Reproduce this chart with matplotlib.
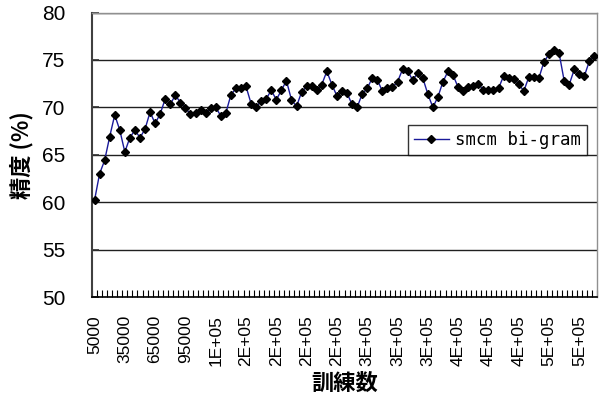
import matplotlib
matplotlib.use("Agg")
import matplotlib.pyplot as plt

plt.rcParams['font.family'] = ['Liberation Sans', 'Noto Sans CJK JP', 'DejaVu Sans']

# Training set sizes (categories) and accuracy (%)
train_sizes = list(range(5000, 500001, 5000))
accuracy = [
    60.2, 63.0, 64.4, 66.9, 69.2, 67.6, 65.3, 66.8, 67.6, 66.8,
    67.7, 69.5, 68.3, 69.3, 70.9, 70.3, 71.3, 70.5, 69.9, 69.3,
    69.4, 69.7, 69.4, 69.9, 70.0, 69.1, 69.4, 71.3, 72.0, 72.0,
    72.2, 70.4, 70.0, 70.7, 70.9, 71.8, 70.8, 71.8, 72.8, 70.8,
    70.1, 71.6, 72.2, 72.2, 71.8, 72.4, 73.8, 72.4, 71.2, 71.7,
    71.5, 70.3, 70.0, 71.4, 72.0, 73.1, 72.9, 71.7, 72.0, 72.1,
    72.7, 74.0, 73.8, 72.9, 73.6, 73.1, 71.4, 70.0, 71.1, 72.7,
    73.8, 73.4, 72.1, 71.7, 72.1, 72.2, 72.5, 71.8, 71.8, 71.8,
    72.0, 73.3, 73.1, 73.0, 72.5, 71.7, 73.2, 73.2, 73.1, 74.8,
    75.6, 76.0, 75.7, 72.8, 72.4, 74.0, 73.5, 73.3, 74.9, 75.4,
]
series_name = "smcm bi-gram"

# Every sixth category carries a label
label_step = 6
tick_labels = ["5000", "35000", "65000", "95000", "1E+05", "2E+05", "2E+05",
               "2E+05", "2E+05", "3E+05", "3E+05", "3E+05", "4E+05", "4E+05",
               "4E+05", "5E+05", "5E+05"]
y_ticks = [50, 55, 60, 65, 70, 75, 80]

cjk = ['Noto Sans CJK JP', 'DejaVu Sans']

fig = plt.figure(figsize=(5.99, 3.96), dpi=100)
ax = fig.add_axes([92 / 599, 1 - 297 / 396, 505 / 599, 284.5 / 396])

pos = list(range(len(train_sizes)))
ax.plot(pos, accuracy, color="#1a1a9a", linewidth=1.0, marker="D",
        markersize=4.2, markerfacecolor="black", markeredgecolor="black",
        label=series_name, zorder=3)

ax.set_xlim(-0.5, len(train_sizes) - 0.5)
ax.set_ylim(50, 80)
ax.set_yticks(y_ticks)
ax.set_yticklabels([str(v) for v in y_ticks], fontsize=15)
ax.tick_params(axis="y", direction="in", length=5, width=1.2,
               color="#303030", pad=19)

ax.set_xticks(pos[::label_step])
ax.set_xticklabels(tick_labels, rotation=90, fontsize=12.5,
                   va="top", ha="center")
ax.set_xticks([p - 0.5 for p in pos] + [pos[-1] + 0.5], minor=True)
ax.tick_params(axis="x", which="major", length=0, pad=13)
ax.tick_params(axis="x", which="minor", direction="in", length=5,
               width=0.8, color="black")

ax.yaxis.grid(True, color="#202020", linewidth=1.0)
ax.set_axisbelow(True)

for side in ("top", "right"):
    ax.spines[side].set_color("#909090")
    ax.spines[side].set_linewidth(1.0)
ax.spines["left"].set_color("#404040")
ax.spines["left"].set_linewidth(1.5)
ax.spines["bottom"].set_color("black")
ax.spines["bottom"].set_linewidth(1.2)

ax.set_ylabel("精度 (%)", fontsize=16, fontweight="bold", labelpad=6,
              family=cjk)
ax.set_xlabel("訓練数", fontsize=16, fontweight="bold", labelpad=4,
              family=cjk)

leg = ax.legend(loc="upper left", bbox_to_anchor=(316 / 505, 172 / 284.5),
                frameon=True, fancybox=False, handlelength=2.0,
                borderpad=0.35, borderaxespad=0, handletextpad=0.35,
                prop={'family': ['DejaVu Sans Mono'], 'size': 12.5})
leg.get_frame().set_edgecolor("black")
leg.get_frame().set_linewidth(1.0)

fig.savefig("out.png", dpi=100)
